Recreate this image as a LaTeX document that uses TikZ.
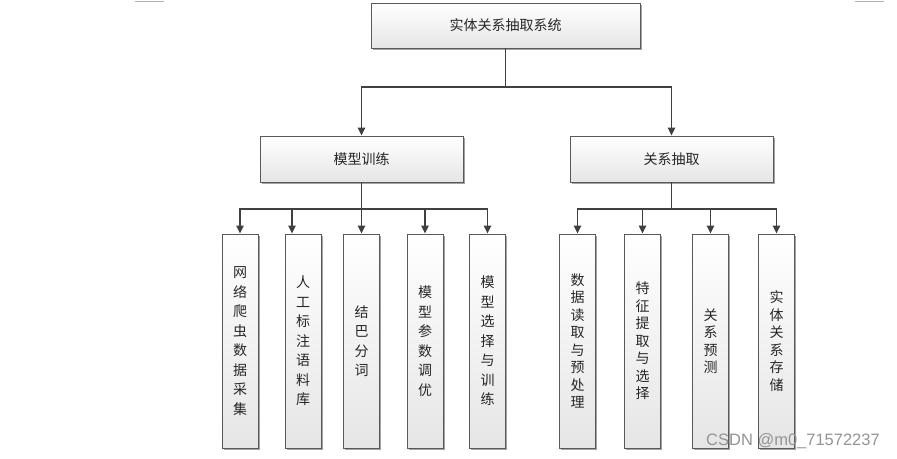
\documentclass[tikz,border=0pt]{standalone}
\usepackage{fontspec}
\newfontfamily\cjk{Noto Sans CJK SC}
\newfontfamily\wmfont{Liberation Sans}
\usetikzlibrary{arrows.meta,shadows}
\tikzset{
  box/.style={draw=black!65, line width=0.9pt, top color=white, bottom color=black!10,
    drop shadow={shadow xshift=1.6pt, shadow yshift=-1.6pt, fill=black!45, opacity=0.8},
    inner sep=0pt, text=black!85},
  topbox/.style={box, minimum width=269pt, minimum height=45pt, font=\cjk\fontsize{14pt}{16pt}\selectfont},
  midbox/.style={box, minimum width=203pt, minimum height=46pt, font=\cjk\fontsize{14pt}{16pt}\selectfont},
  leafL/.style={box, minimum width=36pt, minimum height=214pt, text width=36pt, align=center,
    font=\cjk\fontsize{14pt}{19.5pt}\selectfont},
  leafR/.style={box, minimum width=36pt, minimum height=214pt, text width=36pt, align=center,
    font=\cjk\fontsize{14pt}{17.5pt}\selectfont},
  link/.style={draw=black!75, line width=1.4pt},
  arr/.style={link, -{Triangle[length=8pt,width=7.5pt]}},
}
\begin{document}
\begin{tikzpicture}[x=1pt,y=-1pt]
\useasboundingbox (0,0) rectangle (897,458);
% faint marks at the top edge
\draw[black!30, line width=1pt] (135,1) -- (164,1);
\draw[black!30, line width=1pt] (855,1) -- (884,1);

\node[topbox] (top) at (505.5,25.5) {实体关系抽取系统};
\node[midbox] (m1) at (361.5,159) {模型训练};
\node[midbox] (m2) at (671.5,159) {关系抽取};

\node[leafL] (l1) at (240,341) {网\\络\\爬\\虫\\数\\据\\采\\集};
\node[leafL] (l2) at (303,341) {人\\工\\标\\注\\语\\料\\库};
\node[leafL] (l3) at (361.5,341) {结\\巴\\分\\词};
\node[leafL] (l4) at (425,341) {模\\型\\参\\数\\调\\优};
\node[leafL] (l5) at (487.5,341) {模\\型\\选\\择\\与\\训\\练};

\node[leafR] (r1) at (577.5,341) {数\\据\\读\\取\\与\\预\\处\\理};
\node[leafR] (r2) at (642.5,341) {特\\征\\提\\取\\与\\选\\择};
\node[leafR] (r3) at (710.5,341) {关\\系\\预\\测};
\node[leafR] (r4) at (776.5,341) {实\\体\\关\\系\\存\\储};

\coordinate (j0) at (505.5,87);
\coordinate (j1) at (361.5,209);
\coordinate (j2) at (671.5,209);

\draw[link] (top.south) -- (j0);
\draw[arr] (j0) -| (m1.north);
\draw[arr] (j0) -| (m2.north);

\draw[link] (m1.south) -- (j1);
\draw[arr] (j1) -| (l1.north);
\draw[arr] (j1) -| ([xshift=-11pt]l2.north);
\draw[arr] (j1) -- (l3.north);
\draw[arr] (j1) -| (l4.north);
\draw[arr] (j1) -| (l5.north);

\draw[link] (m2.south) -- (j2);
\draw[arr] (j2) -| (r1.north);
\draw[arr] (j2) -| (r2.north);
\draw[arr] (j2) -| (r3.north);
\draw[arr] (j2) -| (r4.north);

\node[anchor=west, inner sep=0pt, text=black!42, font=\wmfont\fontsize{16.5pt}{18pt}\selectfont] (wm) at (706,441) {CSDN @m0\_71572237};
\end{tikzpicture}
\end{document}
